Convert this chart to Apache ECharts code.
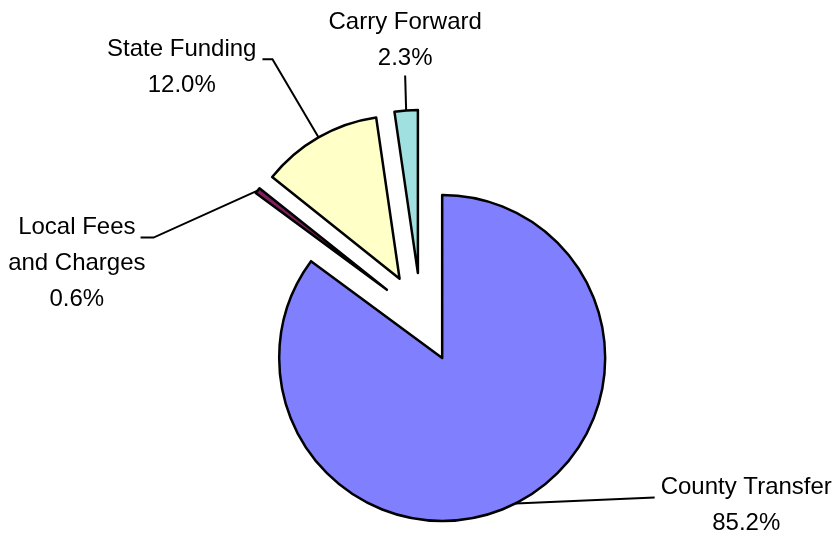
<!DOCTYPE html>
<html>
<head>
<meta charset="utf-8">
<title>Revenue Sources</title>
<script src="https://cdn.jsdelivr.net/npm/echarts@6/dist/echarts.min.js"></script>
<style>
  html, body { margin: 0; padding: 0; background: #ffffff; }
  #chart { width: 832px; height: 538px; }
</style>
</head>
<body>
<div id="chart"></div>
<script>
// Revenue sources, share of total (%)
const categories = ['County Transfer', 'Local Fees and Charges', 'State Funding', 'Carry Forward'];
const labelLines = [['County Transfer'], ['Local Fees', 'and Charges'], ['State Funding'], ['Carry Forward']];
const shares = [85.2, 0.6, 12.0, 2.3];

// Appearance
const sliceColors = ['#8080FF', '#802060', '#FFFFC8', '#A0E0E0'];
const explodeDist = [47, 43, 43, 43];          // how far each slice is pulled out (px)
const pieCenter = [421, 316];
const pieRadius = 163;
// leader line: [bend dx, bend dy, horizontal run] relative to the slice edge
const leaderShape = [[139, -6, 0], [-104, 47, -13], [-46, -78, -10], [-1, -35, 0]];
// text block placement: [align, horizontal gap from leader end]
const textPlacement = [['left', 6], ['right', 5], ['right', -6], ['center', 0]];

const total = shares.reduce((a, b) => a + b, 0);

// unit vector (screen coords) pointing through the middle of slice i,
// angles measured clockwise from 12 o'clock
function midDirection(i) {
  let before = 0;
  for (let j = 0; j < i; j++) before += shares[j];
  const theta = ((before + shares[i] / 2) / total) * 2 * Math.PI;
  return [Math.sin(theta), -Math.cos(theta)];
}

const FONT = "'Liberation Sans', Arial, Helvetica, sans-serif";

function sliceSeries(k) {
  const u = midDirection(k);
  const cx = pieCenter[0] + explodeDist[k] * u[0];
  const cy = pieCenter[1] + explodeDist[k] * u[1];
  return {
    type: 'pie',
    center: [cx, cy],
    radius: [0, pieRadius],
    startAngle: 90,
    clockwise: true,
    silent: true,
    animation: false,
    avoidLabelOverlap: false,
    emphasis: { disabled: true },
    data: categories.map((name, i) => ({
      name: name,
      value: shares[i],
      itemStyle: i === k
        ? { color: sliceColors[i], borderColor: '#000000', borderWidth: 2.5 }
        : { color: 'rgba(0,0,0,0)', borderWidth: 0 },
      label: { show: i === k },
      labelLine: { show: i === k }
    })),
    label: {
      position: 'outer',
      formatter: p => labelLines[p.dataIndex].map(s => '{t|' + s + '}')
        .concat(['{t|' + shares[p.dataIndex].toFixed(1) + '%}']).join('\n'),
      rich: {
        t: { fontFamily: FONT, fontSize: 24, lineHeight: 36, color: '#000000', align: 'center' }
      }
    },
    labelLine: {
      smooth: false,
      lineStyle: { color: '#000000', width: 2 }
    },
    labelLayout: function (params) {
      const i = params.dataIndex;
      if (i !== k) return {};
      const ex = cx + pieRadius * u[0];
      const ey = cy + pieRadius * u[1];
      const lead = leaderShape[i];
      const bx = ex + lead[0], by = ey + lead[1];
      const px = bx + lead[2], py = by;
      const place = textPlacement[i];
      const out = {
        labelLinePoints: [[ex, ey], [bx, by], [px, py]],
        align: place[0],
        x: px + place[1]
      };
      if (place[0] === 'center') {
        out.y = py + 1;
        out.verticalAlign = 'bottom';
      } else {
        out.y = py - 28;
        out.verticalAlign = 'top';
      }
      return out;
    }
  };
}

const chart = echarts.init(document.getElementById('chart'), null, { renderer: 'canvas' });
chart.setOption({
  backgroundColor: '#ffffff',
  animation: false,
  series: categories.map((_, k) => sliceSeries(k))
});
</script>
</body>
</html>
